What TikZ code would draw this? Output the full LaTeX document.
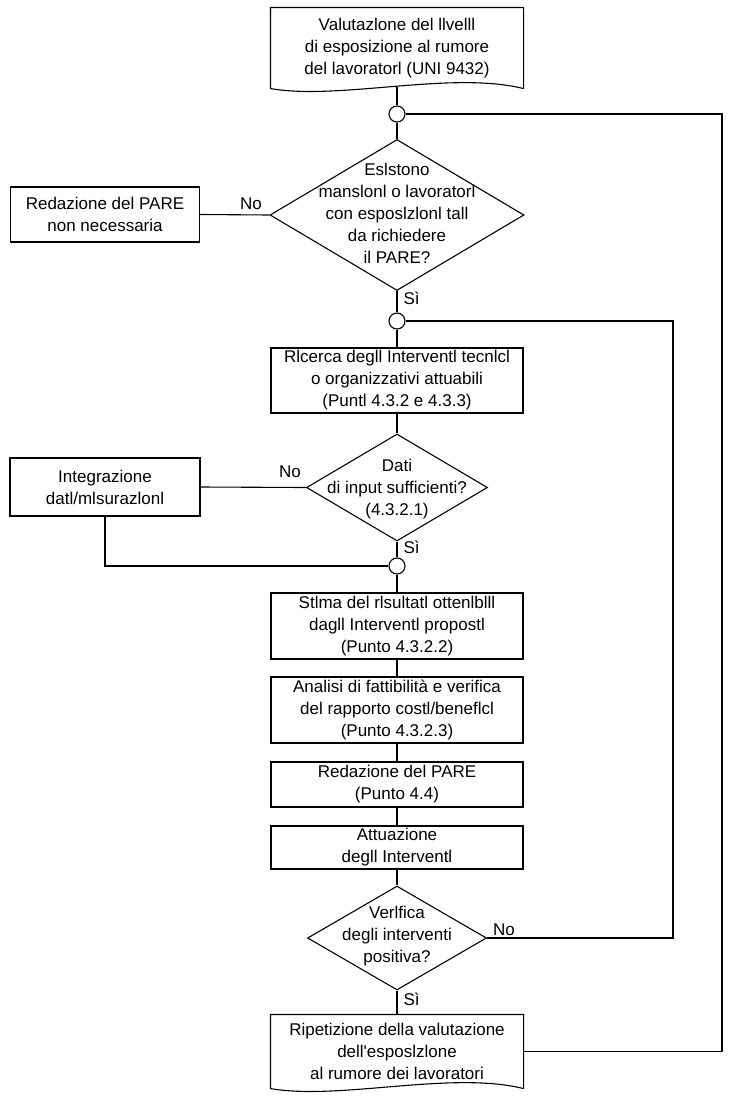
\documentclass[tikz,border=0pt]{standalone}
\usepackage{fontspec}
\setmainfont{Liberation Sans}
\usetikzlibrary{shapes.geometric}
\newcommand{\flowfont}{\fontsize{17}{22}\selectfont}
\begin{document}
\begin{tikzpicture}[x=1pt,y=-1pt,line width=1.1pt,
  box/.style={draw,rectangle,minimum width=252pt,inner sep=0pt,align=center,font=\flowfont},
  lbox/.style={draw,rectangle,minimum width=189pt,inner sep=0pt,align=center,font=\flowfont},
  docbox/.style={rectangle,minimum width=252pt,inner sep=0pt,align=center,font=\flowfont},
  dec/.style={diamond,draw,inner sep=0pt},
  dectext/.style={align=center,inner sep=0pt,font=\flowfont},
  junc/.style={circle,draw,minimum size=16pt,inner sep=0pt},
  lbl/.style={inner sep=0pt,font=\flowfont},
  wire/.style={draw}]
\useasboundingbox (0,0) rectangle (732,1103);

% top document
\node[docbox,minimum height=80pt] (doc1) at (397,48)
  {Valutazlone del llvelll\\di esposizione al rumore\\del lavoratorl (UNI 9432)};
\draw (doc1.south east) -- (doc1.north east) -- (doc1.north west) -- (doc1.south west)
  .. controls +(69,12) and +(-73,-18) .. (doc1.south east);

\node[junc] (c1) at (397,114) {};

\node[dec,minimum width=254pt,minimum height=151pt] (d1) at (397,215) {};
\node[dectext] (d1t) at (397,213)
  {Eslstono\\manslonl o lavoratorl\\con esposlzlonl tall\\da richiedere\\il PARE?};

\node[lbox,minimum height=55pt] (nb1) at (105,214.5) {Redazione del PARE\\non necessaria};
\node[lbl] (no1) at (251,204) {No};
\node[lbl,anchor=west] (si1) at (403,298) {Sì};

\node[junc] (c2) at (397,321) {};

\node[box,minimum height=65pt] (ric) at (397,380.5)
  {Rlcerca degll Interventl tecnlcl\\o organizzativi attuabili\\(Puntl 4.3.2 e 4.3.3)};

\node[dec,minimum width=181pt,minimum height=107pt] (d2) at (397,487.5) {};
\node[dectext] (d2t) at (397,489) {Dati\\di input sufficienti?\\(4.3.2.1)};

\node[lbox,minimum width=190pt,minimum height=58pt] (ib) at (105,487) {Integrazione\\datl/mlsurazlonl};
\node[lbl] (no2) at (290,472) {No};
\node[lbl,anchor=west] (si2) at (403,547) {Sì};

\node[junc] (c3) at (397,566) {};

\node[box,minimum height=66pt] (stima) at (397,626)
  {Stlma del rlsultatl ottenlblll\\dagll Interventl propostl\\(Punto 4.3.2.2)};
\node[box,minimum height=66pt] (anal) at (397,710)
  {Analisi di fattibilità e verifica\\del rapporto costl/beneflcl\\(Punto 4.3.2.3)};
\node[box,minimum height=45pt] (red) at (397,784.5) {Redazione del PARE\\(Punto 4.4)};
\node[box,minimum height=43pt] (att) at (397,847.5) {Attuazione\\degll Interventl};

\node[dec,minimum width=179pt,minimum height=104pt] (d3) at (397,938) {};
\node[dectext] (d3t) at (397,936) {Verlfica\\degli interventi\\positiva?};
\node[lbl] (no3) at (504,930) {No};
\node[lbl,anchor=west] (si3) at (403,999) {Sì};

% bottom document
\node[docbox,minimum height=73pt] (doc2) at (397,1051.5)
  {Ripetizione della valutazione\\dell\textquotesingle esposlzlone\\al rumore dei lavoratori};
\draw (doc2.south east) -- (doc2.north east) -- (doc2.north west) -- (doc2.south west)
  .. controls +(69,12) and +(-73,-18) .. (doc2.south east);

\coordinate (r1) at (722,114);
\coordinate (r2) at (673,321);

% connectors
\draw ([yshift=2pt]doc1.south) -- (c1);
\draw (c1) -- (d1.north);
\draw (d1.west) -- (nb1.east);
\draw (d1.south) -- (c2);
\draw (c2) -- (ric);
\draw (ric) -- (d2.north);
\draw (d2.west) -- (ib.east);
\draw (ib.south) |- (c3.west);
\draw (d2.south) -- (c3);
\draw (c3) -- (stima);
\draw (stima) -- (anal);
\draw (anal) -- (red);
\draw (red) -- (att);
\draw (att) -- (d3.north);
\draw (d3.south) -- (doc2.north);
\draw (d3.east) -| (r2) -- (c2.east);
\draw (doc2.east) -| (r1) -- (c1.east);
\end{tikzpicture}
\end{document}
